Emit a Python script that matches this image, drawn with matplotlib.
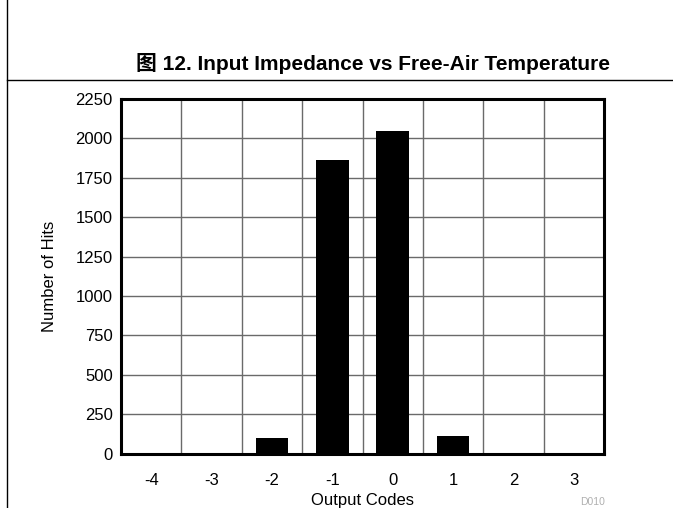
import matplotlib
matplotlib.use("Agg")
import matplotlib.pyplot as plt
from matplotlib.lines import Line2D

plt.rcParams['font.family'] = ['Liberation Sans', 'Noto Sans CJK SC', 'DejaVu Sans']

# data
codes = [-4, -3, -2, -1, 0, 1, 2, 3]
hits = [0, 0, 100, 1860, 2050, 110, 0, 0]
yticks = [0, 250, 500, 750, 1000, 1250, 1500, 1750, 2000, 2250]
title = "图 12. Input Impedance vs Free-Air Temperature"

fig = plt.figure(figsize=(6.73, 5.08), dpi=100)

# page frame lines
fig.add_artist(Line2D([7 / 673, 7 / 673], [0, 1], transform=fig.transFigure, color='black', lw=1))
fig.add_artist(Line2D([7 / 673, 1], [1 - 80 / 508, 1 - 80 / 508], transform=fig.transFigure, color='black', lw=1))
fig.text(373 / 673, 1 - 63 / 508, title, ha='center', va='center', fontsize=15, fontweight='bold')

ax = fig.add_axes([121 / 673, 1 - 453.5 / 508, 483 / 673, 354.5 / 508])
ax.bar(codes, hits, width=0.54, color='black', zorder=3)

ax.set_xlim(-4.5, 3.5)
ax.set_ylim(0, 2250)
ax.set_xticks(codes)
ax.set_xticklabels([str(c) for c in codes])
ax.set_yticks(yticks)
ax.set_xticks([c + 0.5 for c in codes[:-1]], minor=True)
ax.tick_params(axis='both', which='both', length=0, labelsize=12)
ax.tick_params(axis='x', pad=14)
ax.tick_params(axis='y', pad=6)
ax.grid(True, axis='y', which='major', color='#6a6a6a', lw=1, zorder=1)
ax.grid(True, axis='x', which='minor', color='#6a6a6a', lw=1, zorder=1)
ax.grid(False, axis='x', which='major')
for s in ax.spines.values():
    s.set_linewidth(2.2)
    s.set_zorder(4)

ax.set_xlabel("Output Codes", fontsize=12, labelpad=4)
ax.set_ylabel("Number of Hits", fontsize=12, labelpad=13)

fig.text(593 / 673, 1 - 507 / 508, "D010", ha='center', va='bottom', fontsize=7.5, color='#b0b0b0')

fig.savefig("out.png", dpi=100)
